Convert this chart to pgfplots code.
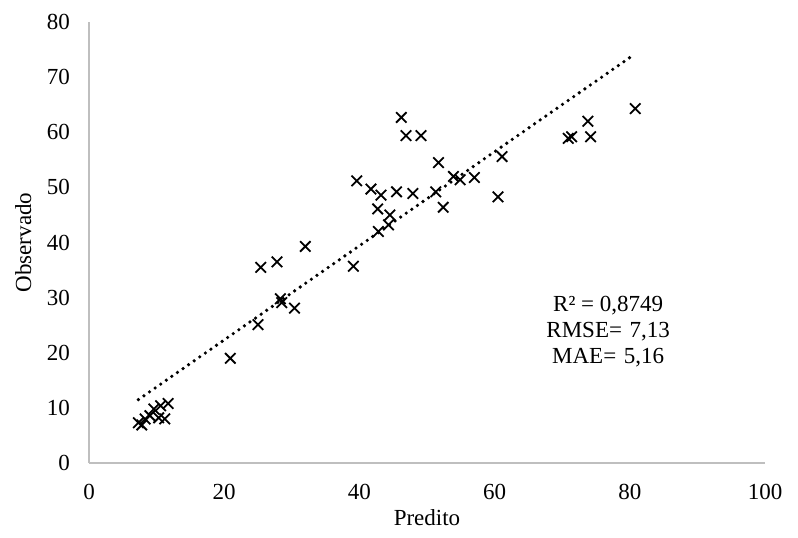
\documentclass[border=0pt]{standalone}
\usepackage{fontspec}
\setmainfont{Liberation Serif}
\usepackage{pgfplots}
\pgfplotsset{compat=1.18}

\begin{document}
\begin{tikzpicture}[font=\fontsize{11.5}{13.8}\selectfont]
  \begin{axis}[
    scale only axis,
    width=338pt, height=220.5pt,
    xmin=0, xmax=100, ymin=0, ymax=80,
    axis x line=bottom, axis y line=left,
    axis line style={black!25, line width=0.6pt, -},
    xtick={0,20,...,100}, ytick={0,10,...,80},
    major tick length=0pt,
    /pgf/number format/assume math mode=true,
    xticklabel style={yshift=-7pt},
    yticklabel style={xshift=-6pt},
    xlabel={Predito}, ylabel={Observado},
    xlabel style={yshift=2pt},
    ylabel style={yshift=1pt},
    clip=false,
  ]
    % Excel linear trendline
    \addplot[black, line width=1.8pt, line cap=round,
             dash pattern=on 0pt off 3.4pt]
      coordinates {(7.3,11.5) (80.4,73.9)};

    \addplot[only marks, mark=x, mark size=3.7pt,
             mark options={black, line width=0.9pt}]
      coordinates {
        (7.3,7.3) (7.8,6.9) (8.3,8.0) (9.0,8.6) (9.6,9.8)
        (10.3,8.2) (10.6,10.4) (11.2,8.0) (11.7,10.8)
        (20.9,19.0) (25.0,25.1) (25.4,35.5) (27.8,36.5)
        (28.3,29.8) (28.5,29.1) (30.4,28.1) (32.0,39.3)
        (39.1,35.7) (39.6,51.2) (41.7,49.7) (42.7,46.1)
        (42.8,42.0) (43.2,48.6) (44.3,43.2) (44.5,45.0)
        (45.5,49.2) (46.2,62.7) (46.9,59.4) (47.9,48.9)
        (49.1,59.4) (51.3,49.2) (51.7,54.5) (52.4,46.4)
        (53.9,52.0) (54.9,51.4) (57.0,51.8) (60.5,48.3)
        (61.1,55.6) (70.9,58.9) (71.4,59.2) (73.8,62.0)
        (74.2,59.2) (80.8,64.3)
      };

    \node[align=center, font=\fontsize{11.5}{13}\selectfont]
      at (axis cs:76.8,23.9) {R² = 0,8749\\RMSE=\,\,7,13\\MAE=\,\,5,16};

    \coordinate (bl) at (axis cs:-13.17,-13.42);
    \coordinate (tr) at (axis cs:104.88,84.0);
  \end{axis}
  \pgfresetboundingbox
  \path (bl) rectangle (tr);
\end{tikzpicture}
\end{document}
